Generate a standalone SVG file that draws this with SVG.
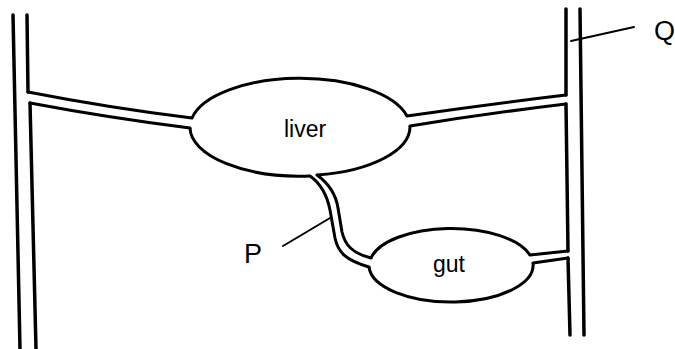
<svg xmlns="http://www.w3.org/2000/svg" width="675" height="349" viewBox="0 0 675 349">
  <style>
    .wall { fill: none; stroke: #000; stroke-width: 3.5; stroke-linecap: round; stroke-linejoin: round; }
    .tube { fill: none; stroke: #000; stroke-width: 3; stroke-linecap: round; stroke-linejoin: round; }
    .organ { fill: #fff; stroke: #000; stroke-width: 3; stroke-linejoin: round; }
    .lead { fill: none; stroke: #000; stroke-width: 2; stroke-linecap: round; }
    .lbl { font-family: "Liberation Sans", Arial, sans-serif; fill: #000; }
  </style>
  <rect width="675" height="349" fill="#fff"/>

  <!-- vessels: double walls of the main vessels and branches -->
  <g id="connectors">
    <!-- left main vessel -->
    <path class="wall" d="M13,15 L20,349"/>
    <path class="wall" d="M27,15 L28,92"/>
    <path class="wall" d="M30,103 L36,349"/>
    <!-- left vessel to liver -->
    <path class="tube" d="M28,92 Q110,108 192,118"/>
    <path class="tube" d="M30,103 Q110,118 190,128"/>
    <!-- liver to right vessel -->
    <path class="tube" d="M407,116 Q490,104 566,95"/>
    <path class="tube" d="M410,126 Q490,113 566,104"/>
    <!-- right main vessel -->
    <path class="wall" d="M580,9 L584,335"/>
    <path class="wall" d="M566,9 L566,95"/>
    <path class="wall" d="M566,104 L568,251"/>
    <path class="wall" d="M568,258 L570,335"/>
    <!-- gut to right vessel -->
    <path class="tube" d="M530,255 L568,251"/>
    <path class="tube" d="M533,263 L568,258"/>
    <!-- vessel P: liver to gut -->
    <path class="tube" d="M310,176 C320,183 327,195 330,210 L335,238 C338,252 345,260 369,267"/>
    <path class="tube" d="M317,175 C328,183 336,195 338,208 L342,232 C345,245 352,253 371,258"/>
  </g>

  <g id="liver">
    <path class="organ" style="fill:none" d="M192,118 A110,49 0 0 1 407,116 M410,126 A110,49 0 0 1 317,175 M310,176 A110,49 0 0 1 190,128"/>
    <text class="lbl" x="305" y="137" font-size="23" text-anchor="middle">liver</text>
  </g>

  <g id="gut">
    <path class="organ" style="fill:none" d="M371,258 A82,37 0 0 1 530,255 M533,263 A82,37 0 0 1 369,267"/>
    <text class="lbl" x="449" y="272" font-size="23" text-anchor="middle">gut</text>
  </g>

  <g id="label-P">
    <path class="lead" d="M283,246 L330,218"/>
    <text class="lbl" x="244" y="263" font-size="27">P</text>
  </g>

  <g id="label-Q">
    <path class="lead" d="M571,41 L634,27"/>
    <text class="lbl" x="654" y="40" font-size="27">Q</text>
  </g>
</svg>
